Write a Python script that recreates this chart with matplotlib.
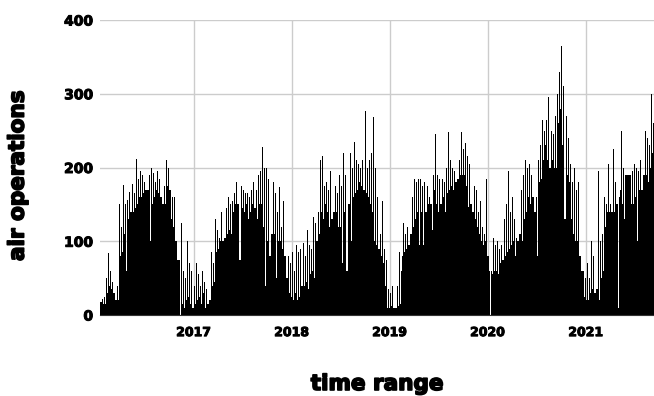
import matplotlib
matplotlib.use("Agg")
import matplotlib.pyplot as plt
import matplotlib.dates as mdates
import matplotlib.patheffects as pe
import numpy as np
import pandas as pd

# weekly readings, weeks starting 2016-01-18
week_start = "2016-01-18"

# highest daily count seen in each week
weekly_peak = [
    25, 22, 25, 50, 84, 60, 45, 40, 70, 40,
    150, 120, 176, 150, 156, 167, 172, 178, 165, 212,
    185, 195, 190, 180, 215, 195, 190, 200, 192, 180,
    195, 185, 190, 185, 175, 210, 200, 170, 160, 160,
    155, 150, 75, 125, 60, 50, 100, 70, 60, 50,
    40, 70, 55, 40, 60, 45, 35, 80, 55, 85,
    70, 130, 115, 105, 140, 165, 135, 145, 160, 150,
    155, 165, 181, 175, 170, 175, 170, 165, 165, 160,
    170, 180, 175, 170, 190, 195, 228, 200, 200, 185,
    210, 190, 180, 165, 140, 174, 120, 155, 150, 100,
    80, 70, 85, 60, 95, 85, 90, 75, 97, 80,
    115, 95, 90, 133, 125, 130, 140, 210, 215, 175,
    180, 170, 195, 180, 185, 175, 165, 190, 175, 220,
    190, 185, 221, 220, 200, 235, 210, 205, 200, 210,
    220, 277, 200, 210, 220, 268, 200, 160, 155, 110,
    155, 90, 75, 35, 30, 40, 25, 35, 40, 85,
    60, 125, 110, 120, 115, 175, 160, 185, 180, 185,
    185, 175, 180, 170, 175, 160, 150, 190, 245, 190,
    185, 175, 185, 180, 200, 248, 210, 200, 195, 200,
    205, 210, 248, 225, 233, 215, 205, 200, 210, 175,
    170, 140, 155, 120, 110, 185, 120, 60, 60, 105,
    95, 100, 90, 95, 195, 130, 150, 195, 140, 160,
    130, 105, 130, 150, 170, 190, 210, 200, 205, 190,
    230, 175, 160, 210, 230, 265, 250, 265, 295, 280,
    250, 245, 270, 300, 330, 365, 310, 280, 270, 240,
    205, 180, 200, 170, 180, 195, 150, 60, 50, 70,
    50, 100, 80, 115, 100, 195, 100, 110, 160, 150,
    205, 150, 155, 225, 180, 150, 160, 250, 200, 190,
    200, 245, 190, 195, 205, 200, 195, 210, 200, 275,
    250, 240, 230, 300, 260,
]

# typical low daily count in each week
weekly_floor = [
    18, 15, 15, 30, 45, 40, 35, 30, 20, 20,
    80, 85, 100, 110, 60, 130, 140, 140, 145, 150,
    155, 160, 160, 165, 170, 170, 100, 150, 160, 160,
    170, 165, 160, 150, 150, 175, 170, 130, 130, 120,
    100, 75, 0, 15, 10, 10, 20, 25, 15, 10,
    15, 20, 25, 20, 15, 30, 10, 15, 20, 40,
    45, 70, 85, 90, 100, 100, 105, 110, 115, 110,
    80, 140, 150, 150, 75, 145, 140, 150, 120, 130,
    140, 150, 145, 130, 150, 150, 160, 120, 40, 100,
    80, 110, 110, 50, 100, 100, 100, 90, 80, 50,
    30, 25, 20, 5, 30, 20, 25, 40, 40, 45,
    35, 60, 55, 60, 50, 100, 110, 140, 130, 120,
    150, 140, 120, 130, 140, 140, 120, 160, 120, 70,
    140, 60, 150, 100, 160, 165, 170, 170, 180, 175,
    170, 165, 160, 150, 150, 140, 100, 95, 90, 80,
    70, 40, 35, 10, 10, 12, 10, 10, 12, 15,
    20, 80, 85, 90, 95, 110, 120, 130, 140, 150,
    95, 140, 95, 140, 150, 150, 115, 170, 170, 150,
    140, 150, 160, 140, 165, 170, 170, 175, 170, 180,
    185, 190, 190, 190, 180, 175, 147, 150, 140, 130,
    120, 110, 65, 100, 95, 100, 80, 0, 55, 60,
    65, 60, 55, 70, 75, 80, 85, 90, 100, 95,
    100, 80, 100, 110, 100, 130, 140, 130, 160, 150,
    160, 140, 80, 180, 185, 200, 210, 230, 210, 200,
    210, 200, 200, 240, 260, 280, 230, 130, 190, 180,
    130, 40, 110, 100, 100, 80, 60, 25, 20, 20,
    25, 30, 35, 30, 35, 20, 50, 60, 120, 120,
    140, 140, 140, 140, 150, 10, 140, 170, 150, 130,
    190, 190, 150, 150, 160, 160, 100, 170, 170, 190,
    190, 180, 200, 220, 220,
]

y_ticks = [0, 100, 200, 300, 400]
year_ticks = ["2017", "2018", "2019", "2020", "2021"]

weeks = pd.date_range(week_start, periods=len(weekly_peak), freq="7D")
x = mdates.date2num(weeks.to_pydatetime())

font = {"family": "DejaVu Sans", "weight": "bold"}
thick_small = [pe.withStroke(linewidth=0.7, foreground="black")]
thick_big = [pe.withStroke(linewidth=1.2, foreground="black")]

fig = plt.figure(figsize=(6.54, 3.96), dpi=100)
ax = fig.add_axes([100 / 654, 81 / 396, 554 / 654, 295 / 396])

ax.bar(x, weekly_floor, width=7, align="edge", color="black", linewidth=0, zorder=2)
ax.bar(x + 2, weekly_peak, width=3, align="edge", color="black", linewidth=0, zorder=2)

ax.set_ylim(0, 400)
ax.set_xlim(mdates.date2num(pd.Timestamp("2016-01-18")), mdates.date2num(pd.Timestamp("2021-09-12")))
ax.set_yticks(y_ticks)
ax.set_yticklabels([str(v) for v in y_ticks], fontsize=10, path_effects=thick_small, **font)
year_pos = [mdates.date2num(pd.Timestamp(f"{y}-01-01")) for y in year_ticks]
ax.set_xticks(year_pos)
ax.set_xticklabels(year_ticks, fontsize=9, path_effects=thick_small, **font)
ax.tick_params(axis="both", length=0)
ax.tick_params(axis="y", pad=5)
ax.tick_params(axis="x", pad=8)

ax.grid(True, color="#cccccc", linewidth=1, zorder=0)
ax.set_axisbelow(True)
for side in ["top", "right", "left"]:
    ax.spines[side].set_visible(False)
ax.spines["bottom"].set_color("#333333")

fig.text(0.027, 1 - 176 / 396, "air operations", rotation=90, ha="center", va="center",
         fontsize=15.5, path_effects=thick_big, **font)
fig.text(377 / 654, 1 - 384 / 396, "time range", ha="center", va="center",
         fontsize=15.5, path_effects=thick_big, **font)

fig.savefig("out.png", dpi=100)
